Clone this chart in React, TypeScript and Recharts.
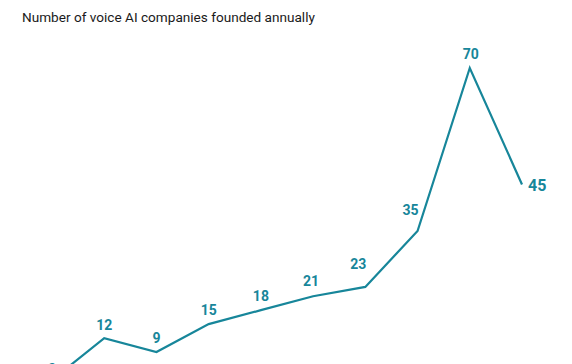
import { LineChart, Line, XAxis, YAxis, LabelList } from 'recharts'

const years = ['2015', '2016', '2017', '2018', '2019', '2020', '2021', '2022', '2023', '2024']
const founded = [3, 12, 9, 15, 18, 21, 23, 35, 70, 45]

const data = years.map((year, i) => ({ year, founded: founded[i] }))

const TEAL = '#17869a'

// label nudges so the numbers sit clear of the line
const nudge: [number, number][] = [
  [0, -6], [0, -8], [0, -9], [0, -9], [0, -9], [-2, -10], [-7, -18], [-7, -16], [1, -9],
]

function PointLabel(props: any) {
  const { x, y, value, index } = props
  if (index === founded.length - 1) {
    return (
      <text x={x + 6} y={y + 1} dominantBaseline="central" fill={TEAL} fontSize={16} fontWeight={700} fontFamily="Roboto">
        {value}
      </text>
    )
  }
  const [dx, dy] = nudge[index] ?? [0, -8]
  return (
    <text x={x + dx} y={y + dy} textAnchor="middle" fill={TEAL} fontSize={14} fontWeight={700} fontFamily="Roboto">
      {value}
    </text>
  )
}

export default function App() {
  return (
    <div style={{ position: 'absolute', top: 0, left: 0, width: 572, height: 364, overflow: 'hidden', background: '#fff' }}>
      <div style={{ position: 'absolute', left: 22, top: 9, fontFamily: 'Roboto', fontSize: 13.6, color: '#1a1a1a' }}>
        Number of voice AI companies founded annually
      </div>
      <LineChart width={572} height={400} data={data} margin={{ top: 68, right: 50, left: 52, bottom: 6 }}>
        <XAxis dataKey="year" hide />
        <YAxis hide domain={[0, 70]} />
        <Line
          type="linear"
          dataKey="founded"
          stroke={TEAL}
          strokeWidth={2.2}
          dot={false}
          isAnimationActive={false}
        >
          <LabelList dataKey="founded" content={PointLabel} />
        </Line>
      </LineChart>
    </div>
  )
}
